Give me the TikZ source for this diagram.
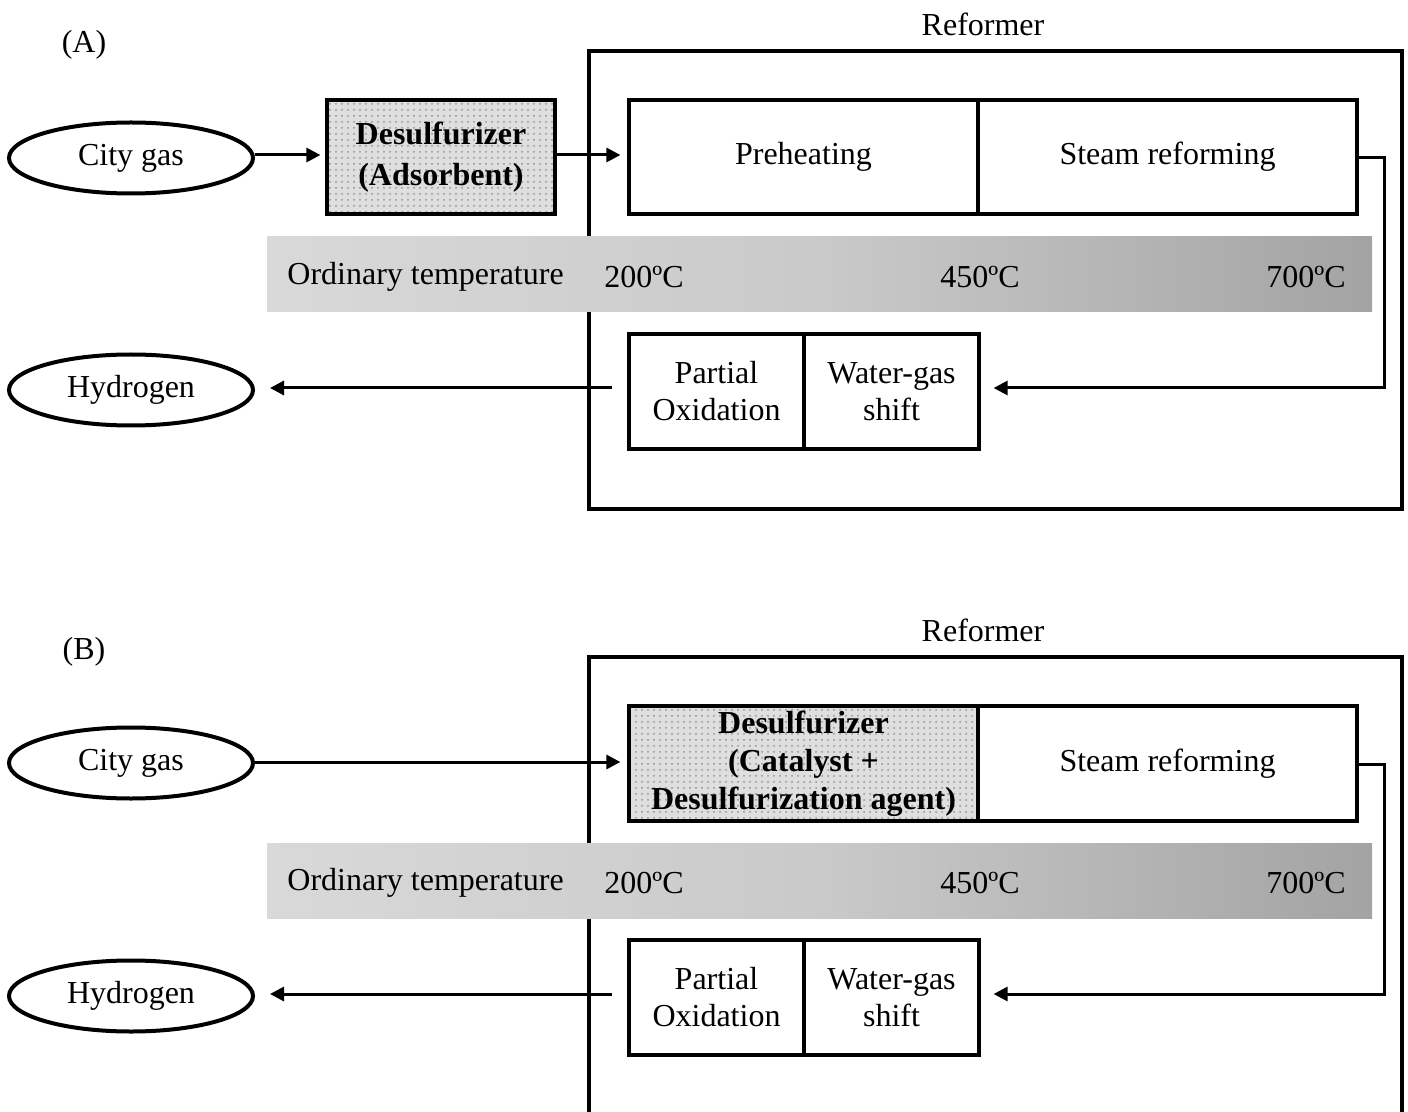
\documentclass[tikz,border=0pt]{standalone}
\usepackage{fontspec}
\setmainfont{Liberation Serif}
\usetikzlibrary{arrows.meta,patterns,calc,shapes.geometric}
\tikzset{
  txt/.style={font=\fontsize{16}{18.5}\selectfont, align=center, inner sep=0pt},
  ell/.style={ellipse, draw, line width=2pt, minimum width=122pt, minimum height=35.5pt, txt},
  blk/.style={rectangle, draw, line width=1.6pt, inner sep=0pt, txt},
  reform/.style={rectangle, draw, line width=2pt, inner sep=0pt},
  dotfill/.style={preaction={fill=gray!25}, pattern=dots, pattern color=gray!85},
  bar/.style={rectangle, inner sep=0pt, minimum width=552.5pt, minimum height=37.5pt,
     left color=black!15, right color=black!36, middle color=black!21},
  conn/.style={line width=1.5pt, -{Triangle[length=7pt,width=7pt]}},
}
\begin{document}
\begin{tikzpicture}[x=0.5pt,y=-0.5pt]
\useasboundingbox (0,0) rectangle (1408,1112);
\clip (0,0) rectangle (1408,1112);
% ---------------- (A) ----------------
\node[txt] (labA) at (84,45) {(A)};
\node[reform, minimum width=406.5pt, minimum height=229pt] (refA) at (995.5,280) {};
\node[txt] (refAlab) at (983,24) {Reformer};
\node[bar] (barA) at (819.5,274.5) {};
\node[txt, anchor=west] (ordA) at (287,277) {Ordinary temperature};
\node[txt] (t200A) at (644,277) {200ºC};
\node[txt] (t450A) at (980,277) {450ºC};
\node[txt] (t700A) at (1306,277) {700ºC};
\node[ell] (cityA) at (131,158) {City gas};
\node[ell] (hydA) at (131,390) {Hydrogen};
\node[blk, dotfill, minimum width=114pt, minimum height=57pt,
      font=\fontsize{16}{20.5}\selectfont\bfseries] (desA) at (441,157) {Desulfurizer\\(Adsorbent)};
\node[blk, minimum width=174.5pt, minimum height=57pt] (preA) at (803.5,157) {Preheating};
\node[blk, minimum width=189.5pt, minimum height=57pt] (stA) at (1167.5,157) {Steam reforming};
\node[blk, minimum width=87.5pt, minimum height=57.5pt] (poA) at (716.5,391.5) {Partial\\Oxidation};
\node[blk, minimum width=87.5pt, minimum height=57.5pt] (wgA) at (891.5,391.5) {Water-gas\\shift};
\draw[conn, shorten >=2.5pt] (cityA.east |- 0,155) -- (desA.west |- 0,155);
\draw[conn, shorten >=3.5pt] (desA.east |- 0,155) -- (preA.west |- 0,155);
\coordinate (retA) at (1384,158);
\draw[conn, shorten >=6.5pt] (stA.east |- retA) -- (retA) |- (wgA.east |- 0,388);
\coordinate (hsA) at (612,388);
\draw[conn, shorten >=7.5pt] (hsA) -- (hydA.east |- hsA);
% ---------------- (B) ----------------
\node[txt] (labB) at (84,652) {(B)};
\node[reform, minimum width=406.5pt, minimum height=240pt] (refB) at (995.5,897) {};
\node[txt] (refBlab) at (983,630) {Reformer};
\node[bar] (barB) at (819.5,880.5) {};
\node[txt, anchor=west] (ordB) at (287,883) {Ordinary temperature};
\node[txt] (t200B) at (644,883) {200ºC};
\node[txt] (t450B) at (980,883) {450ºC};
\node[txt] (t700B) at (1306,883) {700ºC};
\node[ell] (cityB) at (131,763) {City gas};
\node[ell] (hydB) at (131,996) {Hydrogen};
\node[blk, dotfill, minimum width=174.5pt, minimum height=57.5pt,
      font=\fontsize{16}{19}\selectfont\bfseries] (desB) at (803.5,763.5) {Desulfurizer\\(Catalyst +\\Desulfurization agent)};
\node[blk, minimum width=189.5pt, minimum height=57.5pt] (stB) at (1167.5,763.5) {Steam reforming};
\node[blk, minimum width=87.5pt, minimum height=57.5pt] (poB) at (716.5,997.5) {Partial\\Oxidation};
\node[blk, minimum width=87.5pt, minimum height=57.5pt] (wgB) at (891.5,997.5) {Water-gas\\shift};
\draw[conn, shorten >=3.5pt] (cityB.east |- 0,762) -- (desB.west |- 0,762);
\coordinate (retB) at (1384,764);
\draw[conn, shorten >=6.5pt] (stB.east |- retB) -- (retB) |- (wgB.east |- 0,994);
\coordinate (hsB) at (612,994);
\draw[conn, shorten >=7.5pt] (hsB) -- (hydB.east |- hsB);
\end{tikzpicture}
\end{document}
